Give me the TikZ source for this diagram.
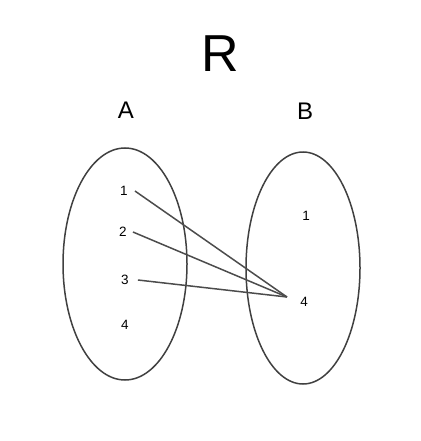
\documentclass[tikz,border=0pt]{standalone}
\usepackage{fontspec}
\setmainfont{Liberation Sans}
\begin{document}
\begin{tikzpicture}[x=1pt,y=-1pt,
  setbox/.style={draw=black!75,line width=1.5pt},
  elem/.style={font=\fontsize{13.5}{15}\selectfont,inner sep=1pt},
  setlabel/.style={font=\fontsize{24}{28}\selectfont},
  link/.style={draw=black!70,line width=1.5pt}]
\useasboundingbox (0,0) rectangle (420,441);
\node[font=\fontsize{52}{60}\selectfont] (R) at (220,54) {R};
\node[setlabel] (A) at (126,110) {A};
\node[setlabel] (B) at (305,111) {B};
\draw[setbox] (125,264) ellipse [x radius=62, y radius=116];
\draw[setbox] (303,268) ellipse [x radius=57, y radius=116];
\node[elem] (a1) at (124,191) {1};
\node[elem] (a2) at (123,232) {2};
\node[elem] (a3) at (125,280) {3};
\node[elem] (a4) at (125,325) {4};
\node[elem] (b1) at (306,216) {1};
\node[elem] (b4) at (304,302) {4};
\coordinate (t) at (287,297);
\draw[link] ([xshift=6pt]a1.east) -- (t);
\draw[link] ([xshift=5pt]a2.east) -- (t);
\draw[link] ([xshift=8pt]a3.east) -- (t);
\end{tikzpicture}
\end{document}
